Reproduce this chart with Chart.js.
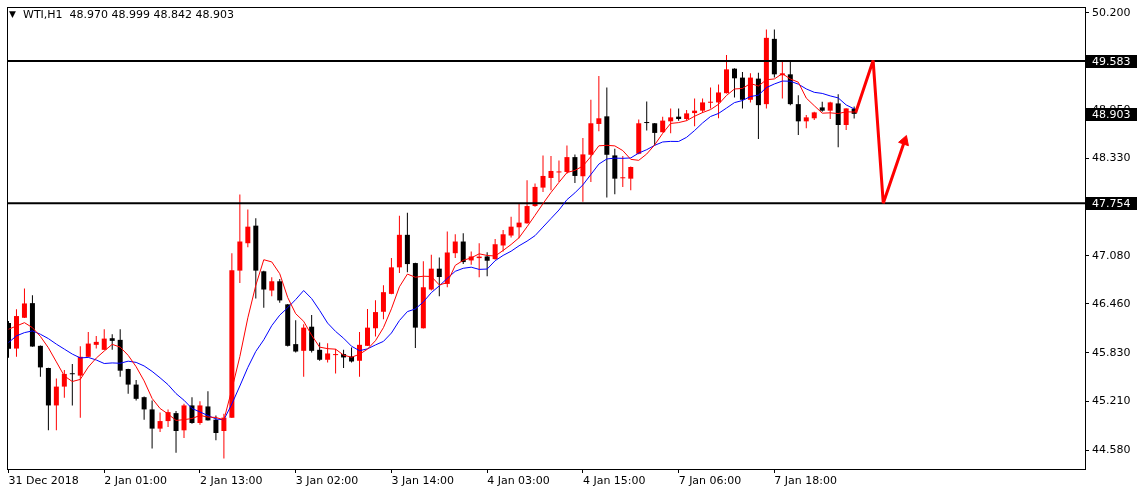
<!DOCTYPE html>
<html>
<head>
<meta charset="utf-8">
<title>WTI,H1</title>
<script src="https://cdn.jsdelivr.net/npm/chart.js@4.4.1/dist/chart.umd.min.js"></script>
<style>
  html, body { margin: 0; padding: 0; background: #fff; }
  #wrap { position: relative; width: 1144px; height: 495px; overflow: hidden; }
  #chart { position: absolute; left: 0; top: 0; }
  .hdr { position: absolute; top: 8px; font: 11px "DejaVu Sans", sans-serif; color: #000; white-space: pre; line-height: 13px; }
  #tri { left: 9px; font-size: 9px; }
  #sym { left: 23px; }
</style>
</head>
<body>
<div id="wrap">
  <canvas id="chart" width="1144" height="495"></canvas>
  <div class="hdr" id="tri">▼</div>
  <div class="hdr" id="sym"></div>
</div>
<script>
// Symbol / timeframe
const symbol = 'WTI,H1';

// Time axis labels (one every 12 hourly bars)
const tickBars = [0, 12, 24, 36, 48, 60, 72, 84, 96];
const tickLabels = ['31 Dec 2018', '2 Jan 01:00', '2 Jan 13:00', '3 Jan 02:00', '3 Jan 14:00',
  '4 Jan 03:00', '4 Jan 15:00', '7 Jan 06:00', '7 Jan 18:00'];

// Price axis labels
const priceTicks = [50.2, 49.57, 48.95, 48.33, 47.71, 47.08, 46.46, 45.83, 45.21, 44.58];

// Hourly candles
const opens = [
  46.215, 45.886, 46.282, 46.470, 45.921, 45.636, 45.155, 45.397, 45.560, 45.538,
  45.780, 45.934, 45.870, 46.019, 45.998, 45.623, 45.423, 45.261, 45.104, 44.857,
  44.954, 45.056, 44.835, 45.155, 44.929, 45.142, 44.972, 44.826, 44.998, 46.888,
  47.240, 47.466, 46.879, 46.632, 46.751, 46.454, 45.943, 45.857, 46.167, 45.870,
  45.742, 45.802, 45.815, 45.784, 45.729, 45.921, 46.147, 46.359, 46.589, 46.930,
  47.348, 46.985, 46.147, 46.645, 46.913, 46.717, 47.112, 47.262, 47.019, 47.049,
  47.070, 47.036, 47.211, 47.339, 47.445, 47.496, 47.718, 47.955, 48.079, 48.150,
  48.156, 48.347, 48.101, 48.377, 48.773, 48.871, 48.369, 48.075, 48.070, 48.390,
  48.794, 48.782, 48.667, 48.807, 48.867, 48.837, 48.913, 48.944, 49.046, 49.050,
  49.169, 49.484, 49.369, 49.084, 49.356, 49.028, 49.867, 49.399, 49.411, 49.028,
  48.807, 48.846, 48.986, 48.944, 49.037, 48.760, 48.970
];
const highs = [
  46.240, 46.390, 46.658, 46.572, 45.925, 45.640, 45.500, 45.611, 45.687, 45.917,
  46.100, 46.049, 46.134, 46.070, 46.134, 45.627, 45.483, 45.270, 45.219, 45.065,
  45.104, 45.082, 45.176, 45.261, 45.210, 45.337, 45.027, 45.049, 47.112, 47.866,
  47.674, 47.560, 46.885, 46.802, 46.780, 46.460, 46.249, 46.198, 46.317, 45.963,
  45.955, 45.879, 45.870, 45.899, 46.100, 46.395, 46.508, 46.700, 47.049, 47.594,
  47.632, 46.990, 47.007, 47.092, 47.058, 47.390, 47.355, 47.368, 47.134, 47.240,
  47.125, 47.296, 47.411, 47.581, 47.751, 48.050, 48.007, 48.369, 48.360, 48.305,
  48.497, 48.382, 48.594, 49.084, 49.391, 49.241, 48.453, 48.360, 48.225, 48.829,
  49.063, 48.785, 48.867, 48.973, 48.973, 48.952, 49.101, 49.101, 49.241, 49.280,
  49.659, 49.490, 49.442, 49.424, 49.433, 49.986, 49.986, 49.570, 49.570, 49.143,
  48.888, 48.931, 49.059, 49.059, 49.156, 48.975, 48.999
];
const lows = [
  45.768, 45.780, 46.278, 45.908, 45.525, 44.835, 44.835, 45.253, 45.155, 44.998,
  45.778, 45.886, 45.868, 45.870, 45.525, 45.304, 45.219, 44.972, 44.602, 44.814,
  44.878, 44.546, 44.737, 44.921, 44.908, 44.960, 44.708, 44.474, 44.995, 46.729,
  47.189, 46.530, 46.410, 46.560, 46.474, 45.912, 45.835, 45.525, 45.835, 45.729,
  45.708, 45.567, 45.636, 45.708, 45.525, 45.918, 46.040, 46.262, 46.585, 46.857,
  46.866, 45.892, 46.143, 46.632, 46.560, 46.674, 47.049, 46.972, 46.964, 46.802,
  46.815, 47.028, 47.134, 47.313, 47.304, 47.492, 47.709, 47.900, 47.922, 48.028,
  48.134, 48.015, 47.773, 48.028, 48.680, 47.828, 47.869, 47.964, 47.922, 48.385,
  48.688, 48.497, 48.664, 48.654, 48.816, 48.816, 48.743, 48.913, 48.973, 48.846,
  49.165, 49.114, 48.973, 49.050, 48.581, 48.973, 49.369, 49.101, 49.015, 48.632,
  48.718, 48.824, 48.931, 48.837, 48.475, 48.696, 48.842
];
const closes = [
  45.883, 46.304, 46.466, 45.912, 45.644, 45.155, 45.397, 45.560, 45.556, 45.780,
  45.950, 45.972, 46.014, 45.985, 45.602, 45.423, 45.240, 45.104, 44.857, 44.954,
  45.069, 44.826, 45.155, 44.929, 45.155, 44.963, 44.801, 44.998, 46.892, 47.262,
  47.453, 46.888, 46.645, 46.751, 46.505, 45.921, 45.848, 46.155, 45.857, 45.742,
  45.823, 45.815, 45.772, 45.720, 45.934, 46.155, 46.355, 46.611, 46.930, 47.348,
  46.972, 46.155, 46.674, 46.913, 46.806, 47.121, 47.262, 46.998, 47.070, 47.068,
  47.015, 47.227, 47.355, 47.453, 47.505, 47.718, 47.964, 48.105, 48.169, 48.156,
  48.347, 48.105, 48.382, 48.782, 48.846, 48.377, 48.070, 48.079, 48.220, 48.782,
  48.785, 48.658, 48.816, 48.858, 48.837, 48.909, 48.944, 49.050, 49.050, 49.178,
  49.475, 49.360, 49.084, 49.369, 49.015, 49.880, 49.411, 49.424, 49.028, 48.807,
  48.858, 48.922, 48.944, 49.050, 48.760, 48.973, 48.903
];

// Moving average values on the first bars (history before the window)
const fastHead = [46.134, 46.176, 46.219, 46.155];
const slowHead = [45.963, 46.049, 46.091, 46.113, 46.070, 46.014, 45.943, 45.879, 45.815];

// Horizontal levels
const levels = [49.583, 47.754];

// Hand-drawn projection arrow (bar index, price)
const arrowBars = [106.19, 108.38, 109.65, 112.31];
const arrowPrices = [48.916, 49.59, 47.754, 48.552];

// visible range
const xMin = -0.1875, xMax = 134.9375;
const yMin = 44.3379, yMax = 50.2766;

// simple moving average of closes, like the source chart's MA(5) and MA(10)
function sma(period, head) {
  return closes.map((c, i) => {
    if (i < period - 1) return head[i];
    let s = 0;
    for (let k = i - period + 1; k <= i; k++) s += closes[k];
    return s / period;
  });
}

const idx = closes.map((_, i) => i);
const candleColor = idx.map(i => closes[i] >= opens[i] ? '#ff0000' : '#000000');
const maFast = sma(5, fastHead);
const maSlow = sma(10, slowHead);
const last = closes.length - 1;

document.getElementById('sym').textContent = symbol + '  ' +
  [opens[last], highs[last], lows[last], closes[last]].map(v => v.toFixed(3)).join(' ');

Chart.defaults.font.family = '"DejaVu Sans", sans-serif';
Chart.defaults.font.size = 11;
Chart.defaults.color = '#000';

// chart frame
const frame = {
  id: 'frame',
  beforeDatasetsDraw(chart) {
    const { ctx, chartArea: a } = chart;
    ctx.save();
    ctx.strokeStyle = '#000';
    ctx.lineWidth = 1;
    ctx.strokeRect(a.left + 0.5, a.top + 0.5, a.right - a.left, a.bottom - a.top);
    ctx.restore();
  }
};

// black price boxes on the right axis
const priceBoxes = {
  id: 'priceBoxes',
  afterDraw(chart) {
    const { ctx, chartArea: a, scales: { y } } = chart;
    ctx.save();
    ctx.font = '11px "DejaVu Sans"';
    ctx.textBaseline = 'middle';
    ctx.textAlign = 'left';
    levels.concat([closes[last]]).forEach(v => {
      const py = Math.round(y.getPixelForValue(v));
      ctx.fillStyle = '#000';
      ctx.fillRect(a.right + 1, py - 6, 51, 13);
      ctx.fillStyle = '#fff';
      ctx.fillText(v.toFixed(3), a.right + 7, py + 1);
    });
    ctx.restore();
  }
};

new Chart(document.getElementById('chart'), {
  type: 'bar',
  data: {
    datasets: [
      {
        type: 'line', label: 'projection',
        data: arrowBars.map((x, i) => ({ x: x, y: arrowPrices[i] })),
        borderColor: '#ff0000', borderWidth: 3, borderJoinStyle: 'bevel',
        pointRadius: arrowBars.map((_, i) => i === arrowBars.length - 1 ? 6 : 0),
        pointStyle: 'triangle', pointRotation: 19,
        pointBackgroundColor: '#ff0000', pointBorderColor: '#ff0000', pointBorderWidth: 1,
        order: 0
      },
      {
        type: 'line', label: 'MA 5',
        data: idx.map(i => ({ x: i, y: maFast[i] })),
        borderColor: '#ff0000', borderWidth: 1, pointRadius: 0, tension: 0,
        order: 1
      },
      {
        type: 'line', label: 'MA 10',
        data: idx.map(i => ({ x: i, y: maSlow[i] })),
        borderColor: '#0000ff', borderWidth: 1, pointRadius: 0, tension: 0,
        order: 2
      },
      ...levels.map(v => ({
        type: 'line', label: 'level ' + v,
        data: [{ x: xMin, y: v }, { x: xMax, y: v }],
        borderColor: '#000', borderWidth: 2, pointRadius: 0,
        order: 3
      })),
      {
        type: 'bar', label: 'body',
        data: idx.map(i => ({ x: i, y: [opens[i], closes[i]] })),
        backgroundColor: candleColor, borderWidth: 0,
        barThickness: 5, minBarLength: 1, grouped: false, inflateAmount: 0,
        order: 4
      },
      {
        type: 'bar', label: 'wick',
        data: idx.map(i => ({ x: i, y: [lows[i], highs[i]] })),
        backgroundColor: candleColor, borderWidth: 0,
        barThickness: 1, grouped: false, inflateAmount: 0,
        order: 5
      }
    ]
  },
  options: {
    responsive: false,
    animation: false,
    devicePixelRatio: 1,
    layout: { padding: { left: 4, top: 4, right: 0, bottom: 0 } },
    plugins: { legend: { display: false }, tooltip: { enabled: false } },
    scales: {
      x: {
        type: 'linear', min: xMin, max: xMax, offset: false,
        afterBuildTicks: s => { s.ticks = tickBars.map(v => ({ value: v })); },
        afterFit: s => { s.height = 26; s.paddingLeft = 0; s.paddingRight = 0; },
        ticks: {
          autoSkip: false, maxRotation: 0, minRotation: 0, align: 'start', padding: 2, color: '#000',
          callback: v => tickLabels[tickBars.indexOf(v)]
        },
        grid: { drawOnChartArea: false, drawTicks: true, tickLength: 4, tickColor: '#000', offset: false },
        border: { display: false }
      },
      y: {
        type: 'linear', position: 'right', min: yMin, max: yMax, beginAtZero: false,
        afterBuildTicks: s => { s.ticks = priceTicks.map(v => ({ value: v })); },
        afterFit: s => { s.width = 59; s.paddingTop = 0; s.paddingBottom = 0; },
        ticks: { padding: 3, color: '#000', callback: v => v.toFixed(3) },
        grid: { drawOnChartArea: false, drawTicks: true, tickLength: 4, tickColor: '#000' },
        border: { display: false }
      }
    }
  },
  plugins: [frame, priceBoxes]
});
</script>
</body>
</html>
